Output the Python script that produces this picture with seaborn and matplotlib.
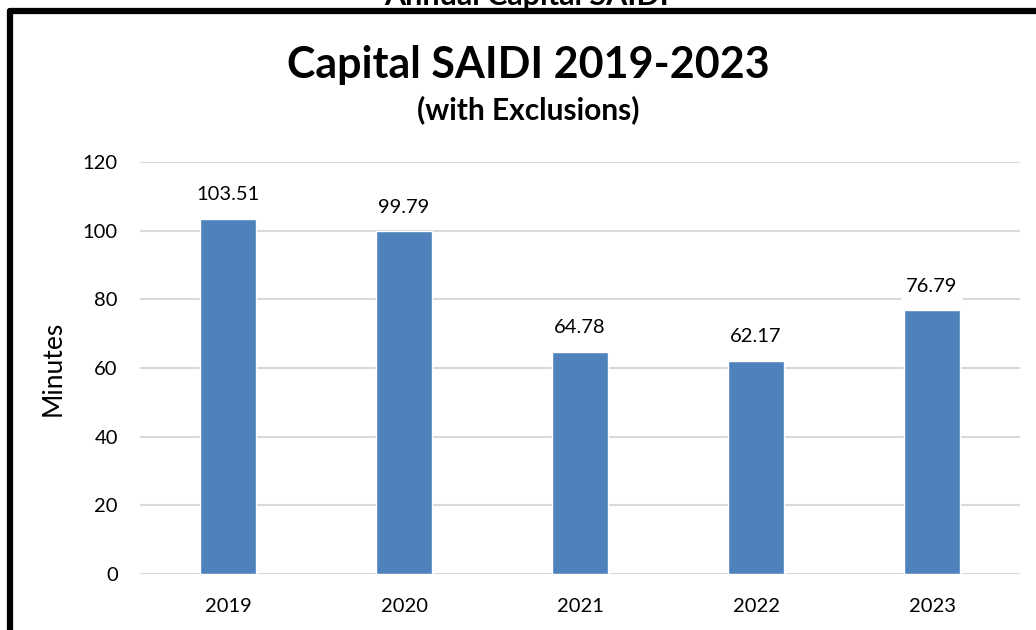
import matplotlib
matplotlib.use("Agg")
import matplotlib.pyplot as plt
import seaborn as sns
import pandas as pd
from matplotlib.lines import Line2D

# Annual Capital SAIDI values (minutes, with exclusions)
years = ["2019", "2020", "2021", "2022", "2023"]
saidi_minutes = [103.51, 99.79, 64.78, 62.17, 76.79]
y_ticks = [0, 20, 40, 60, 80, 100, 120]

sns.set_theme(style="white")
plt.rcParams["font.family"] = ["Lato", "DejaVu Sans"]

df = pd.DataFrame({"Year": years, "Minutes": saidi_minutes})

fig = plt.figure(figsize=(10.36, 6.30), dpi=100)
ax = fig.add_axes([140 / 1036, 1 - 574 / 630, 880 / 1036, 412 / 630])

sns.barplot(data=df, x="Year", y="Minutes", color="#4F81BD", saturation=1,
            width=0.32, ax=ax, zorder=3)

ax.set_ylim(0, 120)
ax.set_yticks(y_ticks)
ax.set_xlim(-0.5, len(years) - 0.5)
ax.grid(axis="y", color="#D9D9D9", linewidth=1.5, zorder=0)
ax.grid(axis="x", visible=False)
for s in ax.spines.values():
    s.set_visible(False)
ax.tick_params(axis="both", length=0, labelsize=14.5, colors="black")
ax.tick_params(axis="y", pad=16)
ax.tick_params(axis="x", pad=17)
ax.set_xlabel("")
ax.set_ylabel("Minutes", fontsize=19, color="black", labelpad=12)

# value labels above each bar
for i, v in enumerate(saidi_minutes):
    ax.annotate(f"{v:.2f}", xy=(i, v), xytext=(0, 17.5), textcoords="offset points",
                ha="center", va="center", fontsize=14.5, color="black", zorder=5,
                bbox=dict(boxstyle="square,pad=0.25", fc="white", ec="none"))

fig.text(528 / 1036, 1 - 65 / 630, "Capital SAIDI 2019-2023", ha="center", va="center",
         fontsize=31, fontweight="bold", color="black")
fig.text(528 / 1036, 1 - 110 / 630, "(with Exclusions)", ha="center", va="center",
         fontsize=21.5, fontweight="bold", color="black")
fig.text(527 / 1036, 1 - 5 / 630, "Annual Capital SAIDI", ha="center", va="baseline",
         fontsize=22, fontweight="bold", color="black")

# chart frame (top and left edges)
fig.add_artist(Line2D([10 / 1036, 1.0], [1 - 11 / 630, 1 - 11 / 630],
                      transform=fig.transFigure, color="black", linewidth=4.5))
fig.add_artist(Line2D([10 / 1036, 10 / 1036], [1 - 11 / 630, 0.0],
                      transform=fig.transFigure, color="black", linewidth=4.5))

fig.savefig("out.png", dpi=100, facecolor="white")
